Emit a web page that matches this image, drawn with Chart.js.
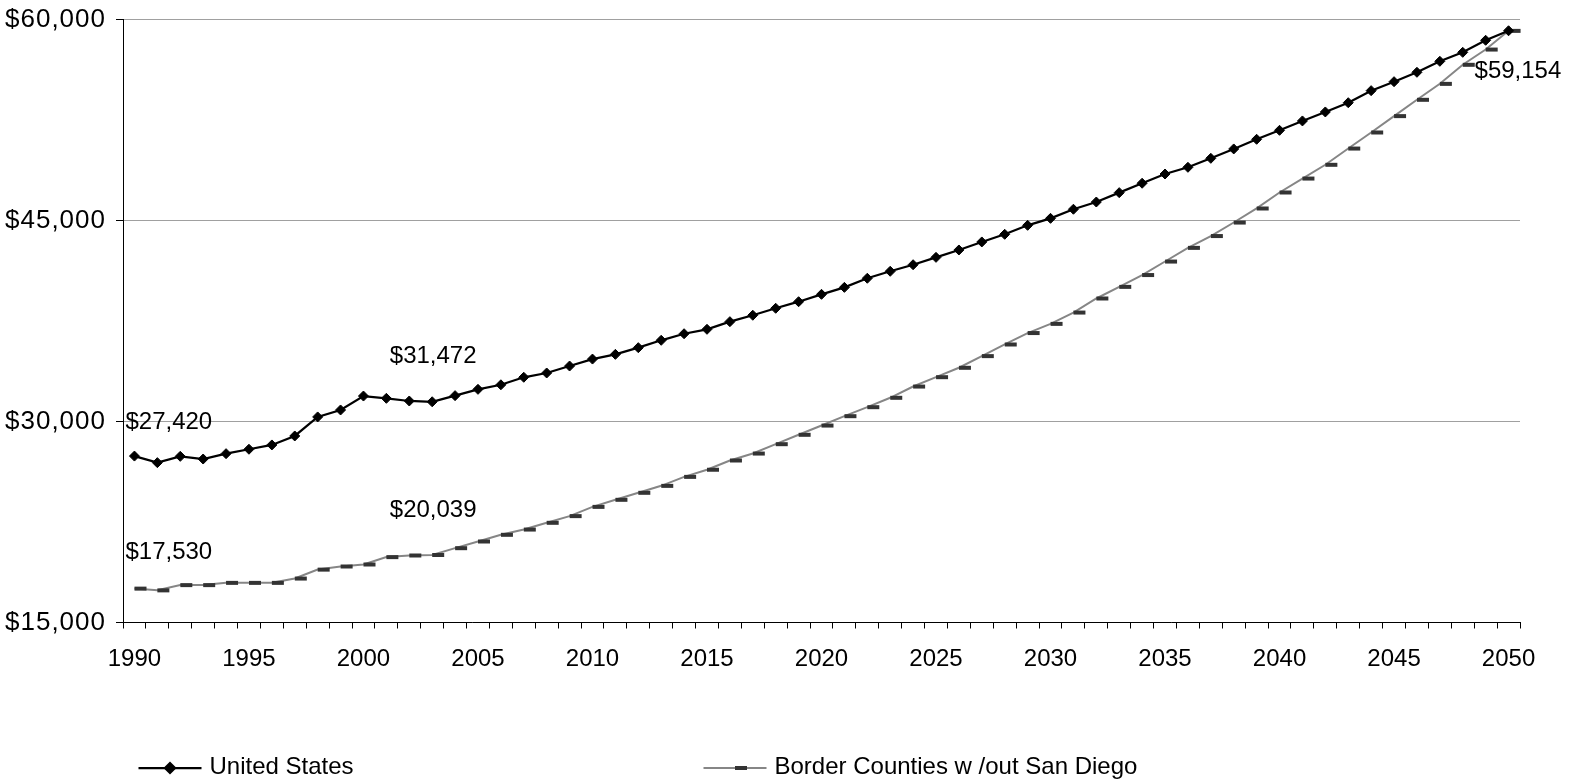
<!DOCTYPE html>
<html>
<head>
<meta charset="utf-8">
<title>Per Capita Income, 1990-2050</title>
<script src="https://cdn.jsdelivr.net/npm/chart.js@4.4.1/dist/chart.umd.min.js"></script>
<style>
  html, body { margin: 0; padding: 0; background: #ffffff; }
  #wrap { width: 1575px; height: 784px; position: relative; }
</style>
</head>
<body>
<div id="wrap"><canvas id="chart" width="1575" height="784"></canvas></div>
<script>
// Years on the category axis
const years = [
  '1990','1991','1992','1993','1994','1995','1996','1997','1998','1999',
  '2000','2001','2002','2003','2004','2005','2006','2007','2008','2009',
  '2010','2011','2012','2013','2014','2015','2016','2017','2018','2019',
  '2020','2021','2022','2023','2024','2025','2026','2027','2028','2029',
  '2030','2031','2032','2033','2034','2035','2036','2037','2038','2039',
  '2040','2041','2042','2043','2044','2045','2046','2047','2048','2049',
  '2050'
];

// Per capita income, United States (dollars)
const unitedStates = [
  27420, 26930, 27400, 27200, 27600, 27930, 28250, 28920, 30340, 30860,
  31900, 31730, 31530, 31472, 31930, 32400, 32740, 33300, 33620, 34140,
  34660, 35010, 35510, 36060, 36550, 36880, 37450, 37930, 38450, 38940,
  39490, 40010, 40690, 41210, 41700, 42250, 42800, 43400, 43970, 44640,
  45160, 45840, 46380, 47080, 47780, 48470, 48970, 49640, 50340, 51060,
  51730, 52430, 53100, 53790, 54690, 55360, 56060, 56880, 57550, 58450,
  59160
];

// Per capita income, border counties excluding San Diego (dollars)
const borderCounties = [
  17530, 17400, 17790, 17790, 17960, 17960, 17960, 18280, 18950, 19180,
  19330, 19880, 20000, 20039, 20550, 21045, 21545, 21940, 22440, 22940,
  23630, 24160, 24680, 25200, 25870, 26400, 27090, 27610, 28310, 29010,
  29700, 30400, 31070, 31770, 32610, 33310, 34010, 34880, 35750, 36600,
  37290, 38130, 39180, 40050, 40930, 41940, 42960, 43840, 44850, 45900,
  47090, 48130, 49160, 50370, 51570, 52790, 54010, 55200, 56620, 57760,
  59154
];

// Value axis ticks
const yTicks = [15000, 30000, 45000, 60000];

const seriesNames = ['United States', 'Border Counties w /out San Diego'];

const FONT = '"Liberation Sans", Arial, sans-serif';
const money = v => '$' + v.toLocaleString('en-US');

// Short horizontal bar marker, drawn to the right of the data point
const dashMarker = document.createElement('canvas');
dashMarker.width = 26;
dashMarker.height = 8;
(function () {
  const c = dashMarker.getContext('2d');
  c.fillStyle = '#333333';
  c.fillRect(13, 2, 12, 4);
})();

// Value-axis labels, set a little wider than the default text
const yAxisLabels = {
  id: 'yAxisLabels',
  afterDraw(chart, args, opts) {
    const ctx = chart.ctx;
    const scale = chart.scales.y;
    ctx.save();
    ctx.font = opts.font;
    ctx.fillStyle = opts.color;
    ctx.textAlign = 'right';
    ctx.textBaseline = 'middle';
    if ('letterSpacing' in ctx) ctx.letterSpacing = opts.letterSpacing;
    yTicks.forEach(v => {
      ctx.fillText(money(v), scale.left + opts.right, scale.getPixelForValue(v));
    });
    ctx.restore();
  }
};

// Dollar labels placed next to selected points
const valueLabels = {
  id: 'valueLabels',
  afterDatasetsDraw(chart, args, opts) {
    const ctx = chart.ctx;
    ctx.save();
    ctx.font = opts.font;
    ctx.fillStyle = opts.color;
    ctx.textBaseline = 'middle';
    opts.items.forEach(it => {
      const pt = chart.getDatasetMeta(it.dataset).data[it.index];
      const v = chart.data.datasets[it.dataset].data[it.index];
      ctx.textAlign = it.align;
      ctx.fillText(money(v), pt.x + it.dx, pt.y + it.dy);
    });
    ctx.restore();
  }
};

// Legend with a line sample and its marker
const lineLegend = {
  id: 'lineLegend',
  afterDraw(chart, args, opts) {
    const ctx = chart.ctx;
    ctx.save();
    ctx.font = opts.font;
    ctx.textBaseline = 'middle';
    ctx.textAlign = 'left';
    opts.items.forEach((it, i) => {
      const ds = chart.data.datasets[i];
      ctx.strokeStyle = ds.borderColor;
      ctx.lineWidth = ds.borderWidth;
      ctx.beginPath();
      ctx.moveTo(it.x, it.y);
      ctx.lineTo(it.x + opts.lineLength, it.y);
      ctx.stroke();
      ctx.fillStyle = ds.pointBackgroundColor;
      ctx.strokeStyle = ds.pointBorderColor;
      Chart.helpers.drawPoint(ctx, {
        pointStyle: ds.pointStyle, radius: ds.pointRadius, borderWidth: ds.pointBorderWidth, rotation: 0
      }, it.x + opts.lineLength / 2, it.y);
      ctx.fillStyle = opts.color;
      ctx.fillText(ds.label, it.x + opts.lineLength + opts.gap, it.y + opts.textDy);
    });
    ctx.restore();
  }
};

new Chart(document.getElementById('chart'), {
  type: 'line',
  data: {
    labels: years,
    datasets: [
      {
        label: seriesNames[0],
        data: unitedStates,
        borderColor: '#000000',
        borderWidth: 2.25,
        pointStyle: 'rectRot',
        pointRadius: 5,
        pointBackgroundColor: '#000000',
        pointBorderColor: '#000000',
        pointBorderWidth: 1,
        tension: 0,
        clip: false
      },
      {
        label: seriesNames[1],
        data: borderCounties,
        borderColor: '#868686',
        borderWidth: 2,
        pointStyle: dashMarker,
        pointRadius: 6,
        pointBackgroundColor: '#333333',
        pointBorderColor: '#333333',
        pointBorderWidth: 0,
        tension: 0,
        clip: false
      }
    ]
  },
  options: {
    responsive: false,
    animation: false,
    devicePixelRatio: 1,
    layout: { padding: { left: 0, right: 55, top: 19.5, bottom: 0 } },
    plugins: {
      legend: { display: false },
      tooltip: { enabled: false },
      yAxisLabels: {
        font: '26px ' + FONT,
        color: '#000000',
        letterSpacing: '1px',
        right: 106
      },
      valueLabels: {
        font: '24px ' + FONT,
        color: '#000000',
        items: [
          { dataset: 0, index: 0, dx: -9, dy: -34, align: 'left' },
          { dataset: 1, index: 0, dx: -9, dy: -36, align: 'left' },
          { dataset: 0, index: 13, dx: 1, dy: -45, align: 'center' },
          { dataset: 1, index: 13, dx: 1, dy: -44.5, align: 'center' },
          { dataset: 1, index: 60, dx: -34, dy: 41, align: 'left' }
        ]
      },
      lineLegend: {
        font: '24px ' + FONT,
        color: '#000000',
        lineLength: 63,
        gap: 8,
        textDy: -1,
        items: [
          { x: 138.5, y: 768 },
          { x: 703.5, y: 768 }
        ]
      }
    },
    scales: {
      x: {
        type: 'category',
        offset: true,
        afterFit: s => { s.height = 161.5; },
        grid: {
          offset: true,
          drawOnChartArea: false,
          drawTicks: true,
          tickLength: 6,
          tickColor: '#000000',
          color: '#000000'
        },
        border: { display: true, color: '#000000', width: 1 },
        ticks: {
          autoSkip: false,
          maxRotation: 0,
          minRotation: 0,
          padding: 16,
          color: '#000000',
          font: { family: FONT, size: 24 },
          callback: (val, i) => (i % 5 === 0 ? years[i] : '')
        }
      },
      y: {
        min: yTicks[0],
        max: yTicks[yTicks.length - 1],
        afterFit: s => { s.width = 123; s.paddingTop = 0; s.paddingBottom = 0; },
        afterBuildTicks: s => { s.ticks = yTicks.map(v => ({ value: v })); },
        grid: {
          color: '#a0a0a0',
          lineWidth: 1,
          drawTicks: true,
          tickLength: 7,
          tickColor: '#000000'
        },
        border: { display: true, color: '#000000', width: 1 },
        ticks: { display: false }
      }
    }
  },
  plugins: [yAxisLabels, valueLabels, lineLegend]
});
</script>
</body>
</html>
